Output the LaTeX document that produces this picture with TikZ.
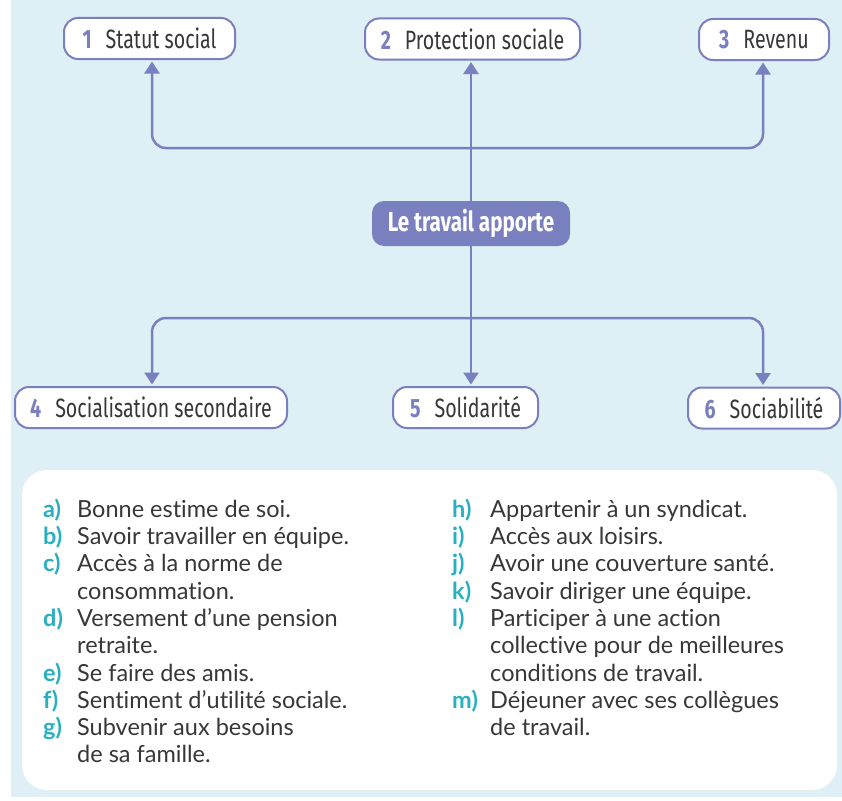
\documentclass[tikz,border=0pt]{standalone}
\usepackage{fontspec}
\setmainfont{Lato}[Ligatures=NoCommon]
\newfontfamily\condfont[FakeStretch=0.74]{Fira Sans}
\newfontfamily\hubfont[FakeStretch=0.75]{Fira Sans}
\usetikzlibrary{arrows.meta}
\definecolor{bgblue}{RGB}{222,240,245}
\definecolor{peri}{RGB}{122,127,192}
\definecolor{labteal}{RGB}{40,176,192}
\definecolor{txt}{RGB}{55,55,55}
\newcommand{\lab}[1]{\textcolor{labteal}{\bfseries #1}}
\newcommand{\numb}[1]{\textcolor{peri}{\bfseries #1}\hspace{14pt}}
\begin{document}
\begin{tikzpicture}[x=1pt,y=-1pt,
  cat/.style={draw=peri, line width=2pt, fill=white, rounded corners=14pt,
    minimum height=41pt, inner sep=0pt, text=txt,
    font=\condfont\fontsize{26.5}{30}\selectfont},
  hub/.style={fill=peri, text=white, rounded corners=12pt, minimum width=198pt,
    minimum height=45pt, inner sep=0pt,
    font=\hubfont\bfseries\fontsize{27.5}{32}\selectfont},
  arr/.style={draw=peri, line width=2.5pt, rounded corners=14pt,
    -{Triangle[width=15pt,length=12pt]}, shorten >=1.5pt},
  col/.style={anchor=north west, inner sep=0pt, text=txt,
    font=\fontsize{23.5}{27.3}\selectfont}
]
\useasboundingbox (0,0) rectangle (842,800);
\fill[bgblue] (11,0) rectangle (842,797);

\node[cat, minimum width=171pt] (b1) at (149.5,38.5) {\numb{1}Statut social};
\node[cat, minimum width=215pt] (b2) at (472.5,39) {\numb{2}Protection sociale};
\node[cat, minimum width=130pt] (b3) at (764,39.5) {\numb{3}Revenu};
\node[hub] (c) at (471,223.5) {Le travail apporte};
\node[cat, minimum width=272pt] (b4) at (151,407.5) {\numb{4}Socialisation secondaire};
\node[cat, minimum width=145pt] (b5) at (465.5,407.5) {\numb{5}Solidarité};
\node[cat, minimum width=152pt] (b6) at (764,408) {\numb{6}Sociabilité};

\coordinate (tj) at (471,148);
\coordinate (bj) at (471,318);
\draw[arr] (c.north) -- (c.north |- b2.south);
\draw[arr] (tj) -| ([xshift=2.5pt]b1.south);
\draw[arr] (tj) -| ([xshift=-1pt]b3.south);
\draw[arr] (c.south) -- (c.south |- b5.north);
\draw[arr] (bj) -| ([xshift=1pt]b4.north);
\draw[arr] (bj) -| ([xshift=-1pt]b6.north);

\node[fill=white, rounded corners=25pt, minimum width=815pt, minimum height=320pt,
  inner sep=0pt] (panel) at (429.5,630) {};

\node[col] (colA) at (43,497.9) {\begin{tabular}{@{}p{34pt}@{}l@{}}
\lab{a)} & Bonne estime de soi.\\
\lab{b)} & Savoir travailler en équipe.\\
\lab{c)} & Accès à la norme de\\
 & consommation.\\
\lab{d)} & Versement d’une pension\\
 & retraite.\\
\lab{e)} & Se faire des amis.\\
\lab{f)} & Sentiment d’utilité sociale.\\
\lab{g)} & Subvenir aux besoins\\
 & de sa famille.
\end{tabular}};

\node[col] (colB) at (452,497.9) {\begin{tabular}{@{}p{38pt}@{}l@{}}
\lab{h)} & Appartenir à un syndicat.\\
\lab{i)} & Accès aux loisirs.\\
\lab{j)} & Avoir une couverture santé.\\
\lab{k)} & Savoir diriger une équipe.\\
\lab{l)} & Participer à une action\\
 & collective pour de meilleures\\
 & conditions de travail.\\
\lab{m)} & Déjeuner avec ses collègues\\
 & de travail.
\end{tabular}};
\end{tikzpicture}
\end{document}
